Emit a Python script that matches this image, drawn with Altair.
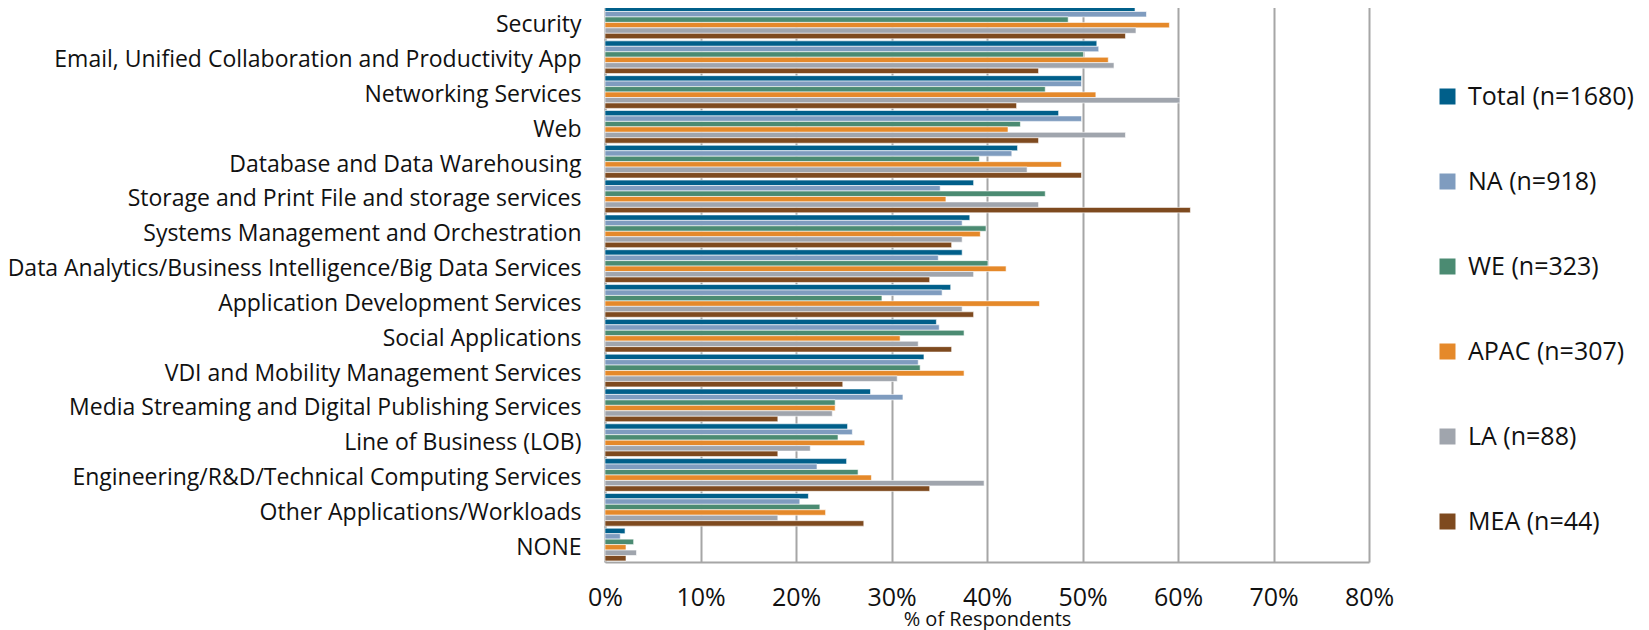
import altair as alt
import pandas as pd

categories = [
    "Security",
    "Email, Unified Collaboration and Productivity App",
    "Networking Services",
    "Web",
    "Database and Data Warehousing",
    "Storage and Print File and storage services",
    "Systems Management and Orchestration",
    "Data Analytics/Business Intelligence/Big Data Services",
    "Application Development Services ",
    "Social Applications",
    "VDI and Mobility Management Services",
    "Media Streaming and Digital Publishing Services",
    "Line of Business (LOB)",
    "Engineering/R&D/Technical Computing Services",
    "Other Applications/Workloads",
    "NONE",
]

series = ["Total (n=1680)", "NA (n=918)", "WE (n=323)", "APAC (n=307)", "LA (n=88)", "MEA (n=44)"]
colors = ["#005f8a", "#7f9cbf", "#4b8b72", "#e5892a", "#a0a5ad", "#7e4a1f"]

total = [55.5, 51.5, 49.9, 47.5, 43.2, 38.6, 38.2, 37.4, 36.2, 34.7, 33.4, 27.8, 25.4, 25.3, 21.3, 2.1]
na    = [56.7, 51.7, 49.9, 49.9, 42.6, 35.1, 37.4, 34.9, 35.3, 35.0, 32.8, 31.2, 25.9, 22.2, 20.4, 1.6]
we    = [48.5, 50.1, 46.1, 43.5, 39.2, 46.1, 39.9, 40.1, 29.0, 37.6, 33.0, 24.1, 24.4, 26.5, 22.5, 3.0]
apac  = [59.1, 52.7, 51.4, 42.2, 47.8, 35.7, 39.3, 42.0, 45.5, 30.9, 37.6, 24.1, 27.2, 27.9, 23.1, 2.2]
la    = [55.6, 53.3, 60.2, 54.5, 44.2, 45.4, 37.4, 38.6, 37.4, 32.8, 30.6, 23.8, 21.5, 39.7, 18.1, 3.3]
mea   = [54.5, 45.4, 43.1, 45.4, 49.9, 61.3, 36.3, 34.0, 38.6, 36.3, 24.9, 18.1, 18.1, 34.0, 27.1, 2.2]

values = [total, na, we, apac, la, mea]

rows = []
for s, vals in zip(series, values):
    for c, v in zip(categories, vals):
        rows.append({"category": c, "series": s, "value": v})
df = pd.DataFrame(rows)

FONT = "Open Sans"

chart = alt.Chart(df).mark_bar(stroke="white", strokeWidth=0.6).encode(
    y=alt.Y("category:N", sort=categories,
            scale=alt.Scale(paddingInner=0.06, paddingOuter=0.03),
            axis=alt.Axis(title=None, ticks=False, labelFontSize=23, labelPadding=24,
                          labelOffset=3,
                          labelColor="#111111", labelFont=FONT, labelLimit=0,
                          domain=True, domainColor="#a6a6a6", domainWidth=2, grid=False)),
    yOffset=alt.YOffset("series:N", sort=series, scale=alt.Scale(paddingInner=0, paddingOuter=0)),
    x=alt.X("value:Q", scale=alt.Scale(domain=[0, 80], nice=False),
            axis=alt.Axis(title="% of Respondents", values=[0, 10, 20, 30, 40, 50, 60, 70, 80],
                          labelExpr="datum.value + '%'", labelFontSize=25, labelPadding=23,
                          labelFlush=False,
                          labelColor="#111111", labelFont=FONT, ticks=False,
                          titleFontSize=20, titleFont=FONT, titleFontWeight="normal",
                          titleColor="#111111", titlePadding=-1,
                          grid=True, gridColor="#a6a6a6", gridWidth=2,
                          domain=True, domainColor="#a6a6a6", domainWidth=2)),
    color=alt.Color("series:N", sort=series,
                    scale=alt.Scale(domain=series, range=colors),
                    legend=alt.Legend(title=None, orient="none", legendX=830, legendY=79,
                                      symbolType="square", symbolSize=256, symbolStrokeWidth=0,
                                      labelFontSize=25, labelFont=FONT, labelColor="#111111",
                                      labelOffset=8, rowPadding=59, padding=0, labelLimit=0)),
).properties(
    width=764,
    height=557,
    autosize=alt.AutoSizeParams(type="none"),
    padding={"left": 597, "top": -3, "right": 272, "bottom": 68},
).configure_view(stroke=None)

chart.save("out.html", embed_options={"renderer": "svg", "actions": False})
